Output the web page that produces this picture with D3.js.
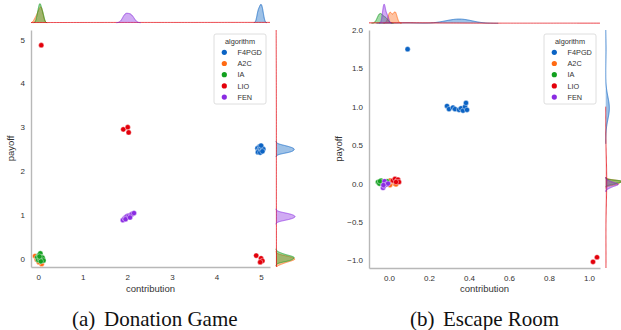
<!DOCTYPE html>
<html>
<head>
<meta charset="utf-8">
<script src="https://cdn.jsdelivr.net/npm/d3@7"></script>
<style>
  body { margin: 0; background: #fff; }
  .sans { font-family: "Liberation Sans", Arial, sans-serif; }
  .serif { font-family: "Liberation Serif", "Times New Roman", serif; }
</style>
</head>
<body>
<script>
const w = 621;
const h = 330;

// algorithms in hue order
const algorithms = ["F4PGD", "A2C", "IA", "LIO", "FEN"];
const palette = ["#0b63c4", "#ff6a13", "#12a01f", "#e3000b", "#8a2be2"];

// Donation Game: [contribution, payoff]
const dgF4PGD = [[4.92, 2.52], [4.97, 2.56], [5.02, 2.53], [4.95, 2.47], [5.0, 2.49], [5.05, 2.5], [4.93, 2.43], [4.98, 2.42], [5.03, 2.45], [5.0, 2.58]];
const dgA2C = [[-0.07, 0.06], [0.08, -0.12], [0.0, 0.0], [0.03, -0.04], [0.05, 0.02], [0.1, -0.05], [-0.03, -0.02], [0.06, 0.05], [0.02, -0.08], [0.09, 0.0]];
const dgIA = [[-0.02, 0.03], [0.02, 0.08], [0.05, 0.12], [0.08, 0.04], [0.0, -0.03], [0.04, -0.01], [0.1, 0.02], [0.12, -0.04], [0.06, -0.06], [0.03, 0.05]];
const dgLIO = [[0.07, 4.87], [1.91, 2.95], [2.01, 3.0], [2.03, 2.88], [4.89, 0.07], [5.0, 0.01], [5.03, -0.05], [4.98, -0.08]];
const dgFEN = [[1.9, 0.88], [1.94, 0.92], [1.97, 0.95], [2.0, 0.97], [2.04, 0.98], [2.08, 1.0], [2.11, 1.02], [2.15, 1.04], [1.96, 0.9], [2.06, 0.94]];

// Escape Room: [contribution, payoff]
const erF4PGD = [[0.093, 1.75], [0.29, 1.01], [0.30, 0.97], [0.32, 0.99], [0.33, 0.97], [0.35, 0.96], [0.36, 0.98], [0.37, 0.95], [0.38, 1.0], [0.385, 1.05], [0.39, 0.96]];
const erA2C = [[0.0, 0.01], [0.005, -0.02], [0.01, 0.03], [0.028, 0.0], [0.03, 0.02], [0.035, -0.01], [0.005, 0.04], [0.03, 0.035]];
const erIA = [[-0.055, 0.02], [-0.048, 0.0], [-0.04, 0.04], [-0.03, -0.01], [-0.02, 0.02], [-0.01, 0.03], [-0.045, 0.03]];
const erLIO = [[0.02, 0.04], [0.03, 0.06], [0.04, 0.03], [0.045, 0.05], [0.05, 0.02], [0.035, 0.02], [1.02, -1.02], [1.04, -0.96]];
const erFEN = [[-0.03, -0.055], [-0.025, -0.03], [-0.02, 0.0], [-0.022, 0.03], [-0.012, -0.01], [-0.005, 0.0], [-0.028, -0.02]];

const dgXTicks = [0, 1, 2, 3, 4, 5];
const dgYTicks = [0, 1, 2, 3, 4, 5];
const erXTicks = [0, 0.2, 0.4, 0.6, 0.8, 1.0];
const erYTicks = [-1, -0.5, 0, 0.5, 1, 1.5, 2];

const svg = d3.select("body").append("svg").attr("width", w).attr("height", h);

// gaussian kde, scott bandwidth, cut = 3 (like seaborn)
function kde(values) {
  const n = values.length;
  const sd = d3.deviation(values);
  const bw = sd * Math.pow(n, -0.2);
  const lo = d3.min(values) - 3 * bw, hi = d3.max(values) + 3 * bw;
  const pts = [];
  for (let i = 0; i < 200; i++) {
    const x = lo + (hi - lo) * i / 199;
    let s = 0;
    values.forEach(v => { const z = (x - v) / bw; s += Math.exp(-0.5 * z * z); });
    pts.push([x, s / (n * bw * Math.sqrt(2 * Math.PI))]);
  }
  return pts;
}

function panel(id, series, box, xTicks, yTicks, fmt, legendX) {
  const x = d3.scaleLinear().domain(box.xd).range([box.left, box.right]);
  const y = d3.scaleLinear().domain(box.yd).range([box.bottom, box.top]);
  const g = svg.append("g").attr("class", "sans");

  const total = d3.sum(series, s => s.length);
  const topK = series.map(s => kde(s.map(d => d[0])).map(p => [p[0], p[1] * s.length / total]));
  const rightK = series.map(s => kde(s.map(d => d[1])).map(p => [p[0], p[1] * s.length / total]));

  // top marginal
  const topMax = d3.max(topK, k => d3.max(k, p => p[1]));
  const ty = d3.scaleLinear().domain([0, topMax]).range([box.topBase, box.topBase - 19]);
  g.append("clipPath").attr("id", id + "top").append("rect")
    .attr("x", box.left).attr("y", 0).attr("width", box.right - box.left).attr("height", box.topBase + 1);
  const gt = g.append("g").attr("clip-path", "url(#" + id + "top)");
  const areaT = d3.area().x(p => x(p[0])).y0(ty(0)).y1(p => ty(p[1]));
  const lineT = d3.line().x(p => x(p[0])).y(p => ty(p[1]));
  topK.forEach((k, i) => {
    gt.append("path").attr("d", areaT(k)).attr("fill", palette[i]).attr("fill-opacity", 0.4);
    gt.append("path").attr("d", lineT(k)).attr("fill", "none").attr("stroke", palette[i])
      .attr("stroke-width", 0.9).attr("stroke-opacity", 0.75);
  });

  // right marginal
  const rightMax = d3.max(rightK, k => d3.max(k, p => p[1]));
  const rx = d3.scaleLinear().domain([0, rightMax]).range([box.rightBase, box.rightBase + 19]);
  g.append("clipPath").attr("id", id + "right").append("rect")
    .attr("x", box.rightBase - 1).attr("y", box.top).attr("width", 40).attr("height", box.bottom - box.top);
  const gr = g.append("g").attr("clip-path", "url(#" + id + "right)");
  const areaR = d3.area().y(p => y(p[0])).x0(rx(0)).x1(p => rx(p[1]));
  const lineR = d3.line().y(p => y(p[0])).x(p => rx(p[1]));
  rightK.forEach((k, i) => {
    gr.append("path").attr("d", areaR(k)).attr("fill", palette[i]).attr("fill-opacity", 0.4);
    gr.append("path").attr("d", lineR(k)).attr("fill", "none").attr("stroke", palette[i])
      .attr("stroke-width", 0.9).attr("stroke-opacity", 0.75);
  });

  // axes
  const xAxis = d3.axisBottom(x).tickValues(xTicks).tickSize(0).tickPadding(7).tickFormat(fmt);
  const yAxis = d3.axisLeft(y).tickValues(yTicks).tickSize(0).tickPadding(6).tickFormat(fmt);
  g.append("g").attr("transform", "translate(0," + box.bottom + ")").call(xAxis);
  g.append("g").attr("transform", "translate(" + box.left + ",0)").call(yAxis);
  g.selectAll(".domain").attr("stroke", "#b8b8b8").attr("stroke-width", 1.4);
  g.selectAll(".tick text").attr("font-size", 8).attr("fill", "#333").attr("font-family", null);

  // axis labels
  g.append("text")
    .attr("x", (box.left + box.right) / 2).attr("y", 292)
    .attr("text-anchor", "middle").attr("font-size", 9.5).attr("fill", "#333")
    .text("contribution");
  g.append("text")
    .attr("transform", "translate(" + box.ylabX + "," + ((box.top + box.bottom) / 2) + ") rotate(-90)")
    .attr("text-anchor", "middle").attr("font-size", 9.5).attr("fill", "#333")
    .text("payoff");

  // points
  series.forEach((s, i) => {
    g.append("g").selectAll("circle")
      .data(s)
      .enter()
      .append("circle")
      .attr("cx", d => x(d[0]))
      .attr("cy", d => y(d[1]))
      .attr("r", 2.6)
      .attr("fill", palette[i])
      .attr("stroke", "#fff")
      .attr("stroke-width", 0.4);
  });

  // legend
  const lg = g.append("g").attr("transform", "translate(" + legendX + ",34)");
  lg.append("rect").attr("width", 52).attr("height", 70).attr("rx", 2)
    .attr("fill", "#fff").attr("stroke", "#d6d6d6").attr("stroke-width", 0.8);
  lg.append("text").attr("x", 26).attr("y", 9.5).attr("text-anchor", "middle")
    .attr("font-size", 7.3).attr("fill", "#333").text("algorithm");
  algorithms.forEach((a, i) => {
    lg.append("circle").attr("cx", 10.3).attr("cy", 18.3 + i * 11.2).attr("r", 2.6).attr("fill", palette[i]);
    lg.append("text").attr("x", 23.5).attr("y", 18.3 + i * 11.2 + 2.7)
      .attr("font-size", 7.3).attr("fill", "#333").text(a);
  });
}

panel("dg", [dgF4PGD, dgA2C, dgIA, dgLIO, dgFEN],
  { xd: [-0.16, 5.2], yd: [-0.19, 5.217], left: 31, right: 270, top: 30, bottom: 267,
    topBase: 22.7, rightBase: 276, ylabX: 14 },
  dgXTicks, dgYTicks, d3.format("d"), 214);

panel("er", [erF4PGD, erA2C, erIA, erLIO, erFEN],
  { xd: [-0.1, 1.055], yd: [-1.1, 2.0], left: 369, right: 600, top: 30, bottom: 268,
    topBase: 23.3, rightBase: 605.7, ylabX: 342 },
  erXTicks, erYTicks, d3.format(".1f"), 544);

// captions
const cap = (x, t) => svg.append("text").attr("class", "serif").attr("x", x).attr("y", 326)
  .attr("font-size", 21).attr("fill", "#111").text(t);
cap(72, "(a)");
cap(104, "Donation Game");
cap(410, "(b)");
cap(443, "Escape Room");
</script>
</body>
</html>
